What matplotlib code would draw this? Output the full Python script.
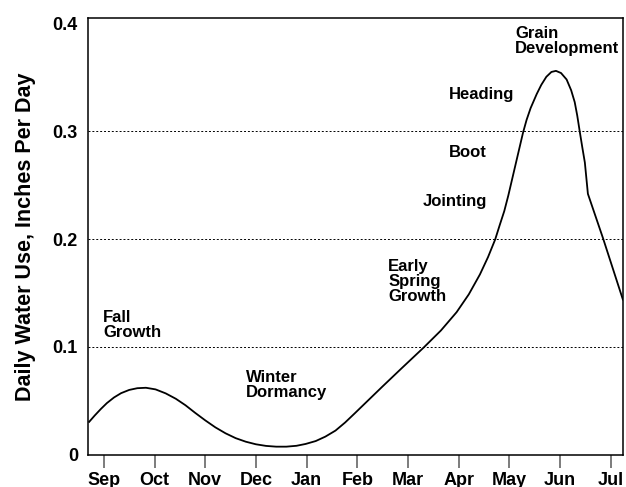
import matplotlib.pyplot as plt

plt.rcParams['font.family'] = ['Liberation Sans', 'DejaVu Sans']
plt.rcParams['font.weight'] = 'bold'

# Month axis: 0 = Sep ... 10 = Jul
months = ['Sep', 'Oct', 'Nov', 'Dec', 'Jan', 'Feb', 'Mar', 'Apr', 'May', 'Jun', 'Jul']

# Daily water use curve (month position, inches per day)
month_pos = [-0.29, -0.18, -0.06, 0.06, 0.2, 0.34, 0.5, 0.66, 0.83, 1.02, 1.22, 1.42,
             1.61, 1.8, 2.0, 2.2, 2.4, 2.6, 2.8, 3.0, 3.2, 3.4, 3.6, 3.8, 3.98, 4.18,
             4.37, 4.57, 4.76, 4.95, 5.17, 5.5, 5.88, 6.31, 6.65, 6.96, 7.2, 7.42,
             7.58, 7.72, 7.81, 7.9, 7.98, 8.11, 8.27, 8.34, 8.42, 8.54, 8.63, 8.73,
             8.83, 8.92, 9.02, 9.13, 9.22, 9.29, 9.34, 9.39, 9.44, 9.49, 9.55, 9.85,
             10.24]
water_use = [0.0306, 0.0365, 0.0425, 0.048, 0.0532, 0.0572, 0.0602, 0.0618, 0.0622,
             0.0607, 0.057, 0.052, 0.046, 0.039, 0.032, 0.0255, 0.020, 0.0155, 0.0122,
             0.0098, 0.0083, 0.0076, 0.0076, 0.0084, 0.0101, 0.0128, 0.0169, 0.0225,
             0.030, 0.0385, 0.0485, 0.0635, 0.0805, 0.0995, 0.1153, 0.1323, 0.1488,
             0.1673, 0.1834, 0.1996, 0.213, 0.226, 0.2405, 0.2666, 0.2987, 0.3105,
             0.3215, 0.3345, 0.343, 0.3505, 0.355, 0.356, 0.354, 0.348, 0.338, 0.327,
             0.3145, 0.2995, 0.285, 0.271, 0.242, 0.2006, 0.144]

# Growth stage labels (text, month position, value, horizontal alignment)
stages = [
    ('Fall\nGrowth', -0.01, 0.1345, 'left'),
    ('Winter\nDormancy', 2.81, 0.0785, 'left'),
    ('Early\nSpring\nGrowth', 5.61, 0.1815, 'left'),
    ('Jointing', 7.56, 0.242, 'right'),
    ('Boot', 7.56, 0.2875, 'right'),
    ('Heading', 6.81, 0.3415, 'left'),
    ('Grain\nDevelopment', 8.11, 0.398, 'left'),
]

fig = plt.figure(figsize=(6.26, 4.87), dpi=100)
ax = fig.add_axes([0.140, 0.066, 0.855, 0.897])

ax.plot(month_pos, water_use, color='black', lw=1.3)

for y in [0.1, 0.2, 0.3]:
    ax.axhline(y, color='black', lw=0.7, ls=(0, (2, 2)), zorder=0)

for label, x, y, ha in stages:
    ax.text(x, y, label, ha=ha, va='top', fontsize=12, fontweight='bold',
            linespacing=1.0)

ax.set_xlim(-0.32, 10.24)
ax.set_ylim(0, 0.405)
ax.set_xticks(range(len(months)))
ax.set_xticklabels(months, fontsize=13, fontweight='bold')
ax.set_yticks([0, 0.1, 0.2, 0.3, 0.4])
ax.set_yticklabels(['0', '0.1', '0.2', '0.3', '0.4'], fontsize=13, fontweight='bold')
ax.tick_params(axis='x', length=9, width=1.2, color='#666666', pad=3)
ax.tick_params(axis='y', length=0, pad=7)
for s in ax.spines.values():
    s.set_linewidth(1.1)

ax.set_ylabel('Daily Water Use, Inches Per Day', fontsize=15.5, fontweight='bold')
ax.yaxis.set_label_coords(-0.097, 0.5)

fig.savefig('out.png', dpi=100)
